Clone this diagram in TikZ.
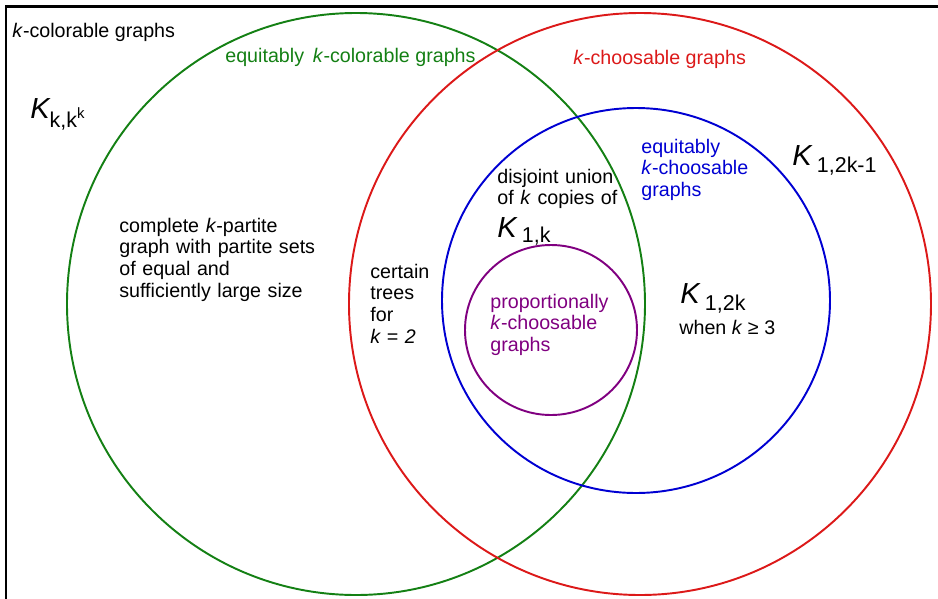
\documentclass[tikz,border=0pt]{standalone}
\usepackage{fontspec}
\setmainfont{Liberation Sans}

\definecolor{eqgreen}{RGB}{20,128,20}
\definecolor{chred}{RGB}{220,25,25}
\definecolor{eqblue}{RGB}{0,0,210}
\definecolor{propurple}{RGB}{128,0,128}

% big K with a dropped subscript
\newcommand{\bigK}[2][4pt]{{\fontsize{16.5}{18}\selectfont\itshape K}\hspace{3pt}\raisebox{-#1}{\fontsize{12.2}{14}\selectfont #2}}

\begin{document}
\begin{tikzpicture}[x=0.02cm,y=-0.02cm,
	every node/.style={font=\fontsize{11.2}{12.4}\selectfont},
	lbl/.style={anchor=base west, inner sep=0pt},
	blk/.style={lbl, text width=6cm, align=left},
	ring/.style={line width=1.1pt}]
	\useasboundingbox (0,0) rectangle (938,599);
	\draw [line width=1.7pt, black] (938,6.5) -- (6,6.5) -- (6,599);

	\draw [ring, eqgreen] (356,304) ellipse (289 and 291);
	\draw [ring, chred] (640,304) ellipse (291 and 291);
	\draw [ring, eqblue] (636,300.5) ellipse (194 and 192.5);
	\draw [ring, propurple] (551,330) ellipse (86 and 85);

	\node[lbl] (colk) at (12,37) {\textit{k}-colorable graphs};
	\node[lbl] (kkk) at (30,118) {{\fontsize{16.5}{18}\selectfont\itshape K}\raisebox{-5.5pt}{\fontsize{12.2}{14}\selectfont k,k\raisebox{5pt}{\fontsize{8.5}{10}\selectfont k}}};

	\node[lbl, eqgreen] (eqcol) at (225,62) {equitably~\,\textit{k}-colorable graphs};
	\node[lbl, chred] (choos) at (573,64) {\textit{k}-choosable graphs};
	\node[blk, eqblue] (eqch) at (641,153) {equitably\\\textit{k}-choosable\\graphs};
	\node[lbl] (kodd) at (792,165) {\bigK{1,2k-1}};

	\node[blk] (cmpl) at (119,232) {complete \textit{k}-partite\\graph with partite sets\\of equal and\\sufficiently large size};
	\node[blk] (trees) at (370,278) {certain\\trees\\for\\\textit{k = 2}};
	\node[blk] (disj) at (497,183) {disjoint union\\of \textit{k} copies of};
	\node[lbl] (kstar) at (497,237) {\bigK[3.4pt]{1,k}};
	\node[blk, propurple] (prop) at (490,308) {proportionally\\\textit{k}-choosable\\graphs};
	\node[lbl] (keven) at (680,303) {\bigK{1,2k}};
	\node[lbl] (when) at (679,334) {when \textit{k} ≥ 3};
\end{tikzpicture}
\end{document}
